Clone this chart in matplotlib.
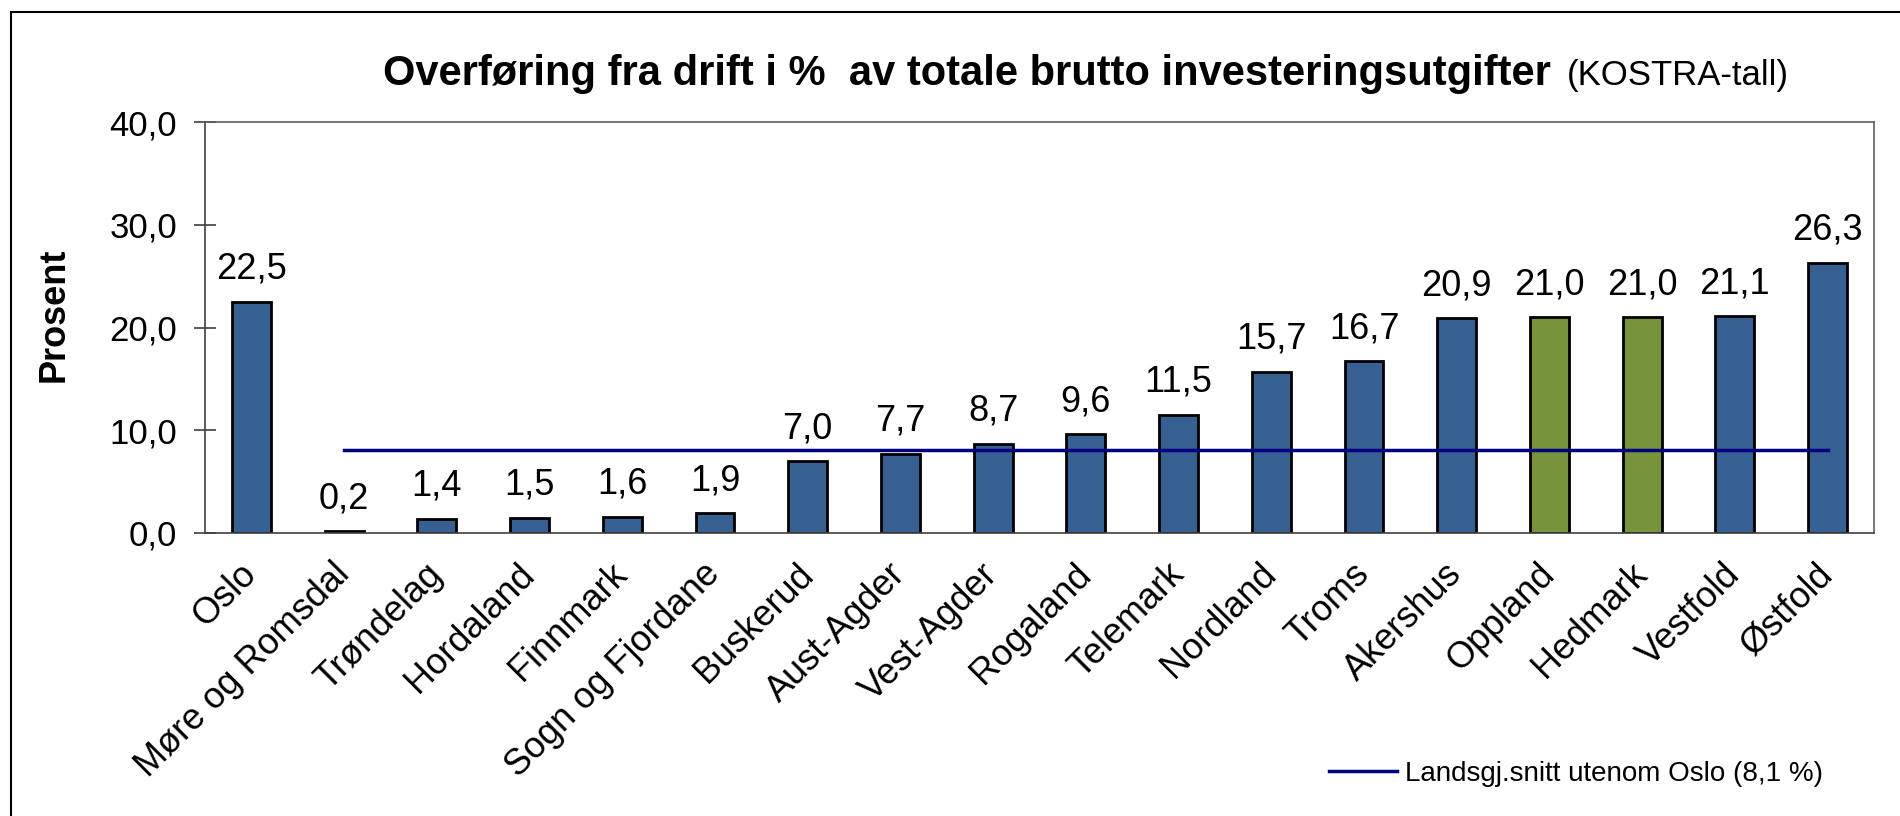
import matplotlib
matplotlib.use("Agg")
import matplotlib.pyplot as plt
from matplotlib.lines import Line2D
from matplotlib.ticker import FuncFormatter, MultipleLocator

plt.rcParams['font.family'] = ['Liberation Sans', 'DejaVu Sans']

# ---- data ----
counties = ["Oslo", "Møre og Romsdal", "Trøndelag", "Hordaland", "Finnmark",
            "Sogn og Fjordane", "Buskerud", "Aust-Agder", "Vest-Agder", "Rogaland",
            "Telemark", "Nordland", "Troms", "Akershus", "Oppland", "Hedmark",
            "Vestfold", "Østfold"]
values = [22.5, 0.2, 1.4, 1.5, 1.6, 1.9, 7.0, 7.7, 8.7, 9.6, 11.5, 15.7, 16.7,
          20.9, 21.0, 21.0, 21.1, 26.3]
highlighted = ["Oppland", "Hedmark"]
avg_label = "Landsgj.snitt utenom Oslo (8,1 %)"
avg_value = 8.1
avg_counties = counties[1:]          # average line spans all counties except Oslo
title_bold = "Overføring fra drift i %  av totale brutto investeringsutgifter"
title_normal = "(KOSTRA-tall)"
ylabel = "Prosent"

# ---- style ----
BLUE = "#376092"
GREEN = "#77933C"
NAVY = "#000080"

def fmt(v):
    return f"{v:.1f}".replace(".", ",")

fig = plt.figure(figsize=(19, 8.16), dpi=100)
ax = fig.add_axes([205/1900, 1 - 533/816, (1874-205)/1900, (533-122)/816])

colors = [GREEN if c in highlighted else BLUE for c in counties]
bars = ax.bar(counties, values, width=0.42, color=colors, edgecolor="black",
              linewidth=2, zorder=2)

line, = ax.plot(avg_counties, [avg_value]*len(avg_counties), color=NAVY,
                linewidth=2.5, zorder=3, label=avg_label)

for b, v in zip(bars, values):
    ax.annotate(fmt(v), xy=(b.get_x() + b.get_width()/2, v), xytext=(0, 16.5),
                textcoords="offset points", ha="center", va="baseline",
                fontsize=26)

ax.set_xlim(-0.5, len(counties) - 0.5)
ax.set_ylim(0, 40)
ax.yaxis.set_major_locator(MultipleLocator(10))
ax.yaxis.set_major_formatter(FuncFormatter(lambda v, p: fmt(v)))
ax.tick_params(axis="y", direction="inout", length=16, width=1.2,
               labelsize=25, pad=12, color="#404040")
ax.tick_params(axis="x", length=0, labelsize=26, pad=26)
for lab in ax.get_xticklabels():
    lab.set_rotation(45)
    lab.set_ha("right")
    lab.set_va("center")
    lab.set_rotation_mode("anchor")

for s in ["left", "bottom"]:
    ax.spines[s].set_color("#404040")
    ax.spines[s].set_linewidth(1.2)
for s in ["top", "right"]:
    ax.spines[s].set_color("#606060")
    ax.spines[s].set_linewidth(1.2)

ax.set_ylabel(ylabel, fontsize=26, fontweight="bold")
ax.yaxis.set_label_coords(-0.080, 0.532)

# title (bold part + normal part sharing baseline)
t1 = fig.text(383/1900, 1 - 85/816, title_bold, fontsize=30, fontweight="bold",
              ha="left", va="baseline")
fig.canvas.draw()
r = fig.canvas.get_renderer()
bb = t1.get_window_extent(r)
fig.text((bb.x1 + 16)/1900, 1 - 85/816, title_normal, fontsize=25,
         ha="left", va="baseline")

# legend
fig.legend(handles=[line], loc="center left",
           bbox_to_anchor=(1329/1900, 1 - 774/816), frameon=False,
           fontsize=20, handlelength=2.45, handletextpad=0.3,
           borderpad=0, borderaxespad=0)

# outer chart-area frame (top & left edges visible)
fig.add_artist(Line2D([11/1900, 11/1900], [0, 1 - 12/816], transform=fig.transFigure,
                      color="black", linewidth=1.5))
fig.add_artist(Line2D([11/1900, 1], [1 - 12/816, 1 - 12/816], transform=fig.transFigure,
                      color="black", linewidth=1.5))

fig.savefig("out.png", dpi=100, facecolor="white")
